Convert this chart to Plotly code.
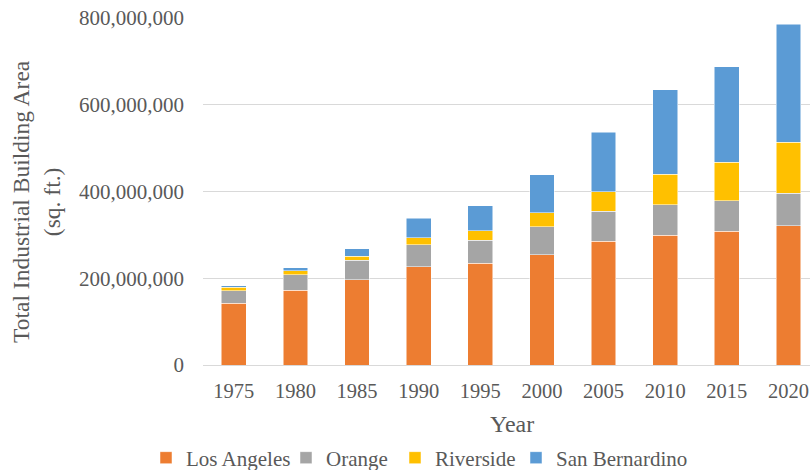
import plotly.graph_objects as go

years = ["1975", "1980", "1985", "1990", "1995", "2000", "2005", "2010", "2015", "2020"]
los_angeles = [142e6, 172e6, 196e6, 226e6, 235e6, 254e6, 285e6, 299e6, 308e6, 321e6]
orange = [29e6, 36e6, 45e6, 51e6, 53e6, 65e6, 69e6, 71e6, 71e6, 75e6]
riverside = [8e6, 9e6, 10e6, 16e6, 21e6, 32e6, 46e6, 70e6, 88e6, 117e6]
san_bernardino = [4e6, 7e6, 17e6, 45e6, 58e6, 88e6, 137e6, 195e6, 221e6, 273e6]

series = [
    ("Los Angeles", los_angeles, "#ED7D31"),
    ("Orange", orange, "#A5A5A5"),
    ("Riverside", riverside, "#FFC000"),
    ("San Bernardino", san_bernardino, "#5B9BD5"),
]
# reference text start of each legend entry (px)
legend_text_x = [180, 320, 429, 550]

FONT = "Liberation Serif, Times New Roman, serif"
TXT = "#595959"

L, R, T, B = 203, 0, 18, 105
W, H = 810, 470
pw = W - L - R
ph = H - T - B

fig = go.Figure()
legend_cfg = {}
for i, (name, vals, col) in enumerate(series):
    lname = "legend" if i == 0 else f"legend{i + 1}"
    fig.add_trace(go.Bar(x=years, y=vals, name=name, legend=lname,
                         marker=dict(color=col, line=dict(color="white", width=0.5))))
    legend_cfg[lname] = dict(
        orientation="h", x=(legend_text_x[i] - 34 - L) / pw, xanchor="left",
        y=(H - B - 458) / ph, yanchor="middle",
        font=dict(size=21, family=FONT, color=TXT),
        itemwidth=30, bgcolor="rgba(0,0,0,0)", borderwidth=0)

fig.update_layout(
    width=W, height=H,
    margin=dict(l=L, r=R, t=T, b=B, autoexpand=False),
    barmode="stack", bargap=0.6,
    plot_bgcolor="white", paper_bgcolor="white",
    font=dict(family=FONT, color=TXT, size=20),
    showlegend=True,
    xaxis=dict(type="category", range=[-0.5, 9.35], showgrid=False,
               showline=False, ticks="", tickfont=dict(size=20.5),
               ticklabelstandoff=11, automargin=False),
    yaxis=dict(range=[0, 800e6], tickvals=[0, 200e6, 400e6, 600e6, 800e6],
               tickformat=",d", showgrid=True, gridcolor="#D9D9D9", gridwidth=1.3,
               zeroline=True, zerolinecolor="#D9D9D9", zerolinewidth=1.3,
               showline=False, ticks="", tickfont=dict(size=21),
               ticklabelstandoff=18, automargin=False),
    **legend_cfg,
)

fig.add_annotation(text="Total Industrial Building Area<br>(sq. ft.)",
                   textangle=-90, xref="paper", yref="paper",
                   x=(36 - L) / pw, y=(H - B - 202) / ph,
                   xanchor="center", yanchor="middle", showarrow=False,
                   font=dict(size=23.5, family=FONT, color=TXT))
fig.add_annotation(text="Year", xref="paper", yref="paper",
                   x=(512 - L) / pw, y=(H - B - 424) / ph,
                   xanchor="center", yanchor="middle", showarrow=False,
                   font=dict(size=24, family=FONT, color=TXT))

fig.write_html("out.html", config={"displayModeBar": False},
               post_script="document.body.style.margin='0';document.body.style.overflow='hidden';")
